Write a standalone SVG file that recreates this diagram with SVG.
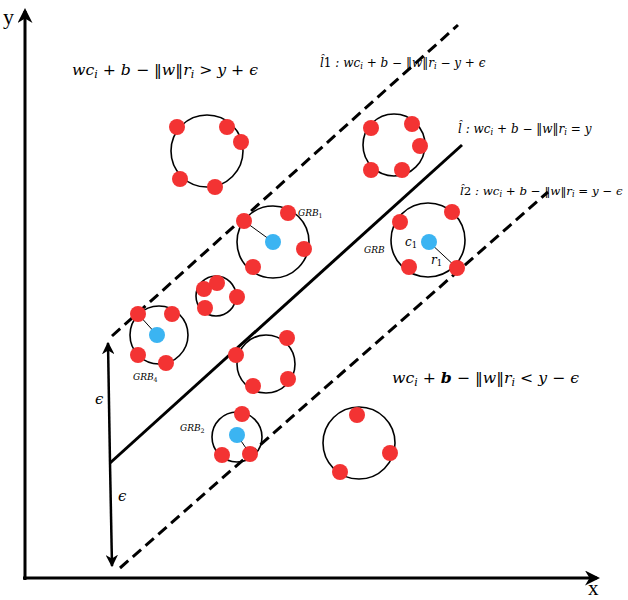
<svg xmlns="http://www.w3.org/2000/svg" width="628" height="600" viewBox="0 0 628 600">
<style>
.c{fill:none;stroke:#000;stroke-width:1.6}
.r{fill:#f33333}
.b{fill:#3bb4f2}
.m{font-family:"DejaVu Serif","Liberation Serif",serif;font-style:italic;fill:#000}
.n{font-family:"Liberation Serif","DejaVu Serif",serif;fill:#000}
.s{font-size:70%}
.ax{stroke:#000;stroke-width:3;fill:none}
.dash{stroke:#000;stroke-width:3;stroke-dasharray:11 6;fill:none}
.sp{stroke:#000;stroke-width:1;fill:none}
</style>
<defs>
<marker id="ah" viewBox="0 0 10 10" refX="8" refY="5" markerWidth="5" markerHeight="5" orient="auto-start-reverse" markerUnits="strokeWidth">
<path d="M0,0 L10,5 L0,10 L3,5 Z" fill="#000"/>
</marker>
<marker id="ah2" viewBox="0 0 10 10" refX="9" refY="5" markerWidth="5" markerHeight="5" orient="auto-start-reverse" markerUnits="strokeWidth">
<path d="M0,0 L10,5 L0,10 L3,5 Z" fill="#000"/>
</marker>
</defs>
<rect width="628" height="600" fill="#fff"/>
<g id="connectors">
<line class="ax" x1="25" y1="580" x2="25" y2="11" marker-end="url(#ah)"/>
<line class="ax" x1="23" y1="578" x2="597" y2="578" marker-end="url(#ah)"/>
<line x1="110" y1="463" x2="462" y2="145" stroke="#000" stroke-width="3"/>
<line class="dash" x1="112" y1="336" x2="458" y2="25"/>
<line class="dash" x1="120" y1="568" x2="548" y2="192"/>
<line stroke="#000" stroke-width="2.5" x1="110" y1="463" x2="108" y2="343" marker-end="url(#ah2)"/>
<line stroke="#000" stroke-width="2.5" x1="110" y1="463" x2="112" y2="566" marker-end="url(#ah2)"/>
</g>
<g id="axis-labels">
<text class="n" x="3" y="24" font-size="22">y</text>
<text class="n" x="588" y="595" font-size="21">x</text>
<text class="m" x="95" y="404" font-size="15" font-style="normal">ϵ</text>
<text class="m" x="118" y="501" font-size="15" font-style="normal">ϵ</text>
</g>
<g id="region-labels">
<text class="m" x="72" y="75" font-size="15.7">wc<tspan class="s" dy="3">i</tspan><tspan dy="-3"> + b − ‖w‖r</tspan><tspan class="s" dy="3">i</tspan><tspan dy="-3"> &gt; y + ϵ</tspan></text>
<text class="m" x="392" y="383" font-size="15.7">wc<tspan class="s" dy="3">i</tspan><tspan dy="-3"> + <tspan font-weight="bold">b</tspan> − ‖w‖r</tspan><tspan class="s" dy="3">i</tspan><tspan dy="-3"> &lt; y − ϵ</tspan></text>
<text class="m" x="320" y="67" font-size="12">l̂<tspan font-style="normal">1</tspan> : wc<tspan class="s" dy="2">i</tspan><tspan dy="-2"> + b − ‖w‖r</tspan><tspan class="s" dy="2">i</tspan><tspan dy="-2"> − y + ϵ</tspan></text>
<text class="m" x="458" y="133" font-size="12">l̂ : wc<tspan class="s" dy="2">i</tspan><tspan dy="-2"> + b − ‖w‖r</tspan><tspan class="s" dy="2">i</tspan><tspan dy="-2"> = y</tspan></text>
<text class="m" x="460" y="195" font-size="11.8">l̂<tspan font-style="normal">2</tspan> : wc<tspan class="s" dy="2">i</tspan><tspan dy="-2"> + b − ‖w‖r</tspan><tspan class="s" dy="2">i</tspan><tspan dy="-2"> = y − ϵ</tspan></text>
</g>
<g id="node-top-left">
<circle class="c" cx="207" cy="151" r="36"/>
<circle class="r" cx="177" cy="127" r="8"/>
<circle class="r" cx="227" cy="127" r="8"/>
<circle class="r" cx="241" cy="142" r="8"/>
<circle class="r" cx="180" cy="179" r="8"/>
<circle class="r" cx="215" cy="187" r="8"/>
</g>
<g id="node-top-right">
<circle class="c" cx="394" cy="145" r="31"/>
<circle class="r" cx="371" cy="128" r="8"/>
<circle class="r" cx="412" cy="124" r="8"/>
<circle class="r" cx="420" cy="146" r="8"/>
<circle class="r" cx="371" cy="170" r="8"/>
<circle class="r" cx="402" cy="170" r="8"/>
</g>
<g id="node-grb1">
<circle class="c" cx="273" cy="242" r="36"/>
<line class="sp" x1="244" y1="221" x2="273" y2="242"/>
<circle class="r" cx="244" cy="221" r="8"/>
<circle class="r" cx="288" cy="213" r="8"/>
<circle class="r" cx="304" cy="249" r="8"/>
<circle class="r" cx="253" cy="267" r="8"/>
<circle class="b" cx="273" cy="242" r="8"/>
<text class="m" x="298" y="216" font-size="9">GRB<tspan class="s" dy="2" font-style="normal">1</tspan></text>
</g>
<g id="node-grb">
<circle class="c" cx="428" cy="240" r="37"/>
<line class="sp" x1="429" y1="242" x2="457" y2="268"/>
<circle class="r" cx="400" cy="222" r="8"/>
<circle class="r" cx="452" cy="212" r="8"/>
<circle class="r" cx="409" cy="267" r="8"/>
<circle class="r" cx="457" cy="268" r="8"/>
<circle class="b" cx="429" cy="242" r="8"/>
<text class="m" x="405" y="246" font-size="12">c<tspan class="s" dy="2" font-style="normal">1</tspan></text>
<text class="m" x="431" y="264" font-size="12">r<tspan class="s" dy="2" font-style="normal">1</tspan></text>
<text class="m" x="364" y="253" font-size="9">GRB</text>
</g>
<g id="node-small">
<circle class="c" cx="216" cy="296" r="20"/>
<circle class="r" cx="204" cy="289" r="8"/>
<circle class="r" cx="217" cy="283" r="8"/>
<circle class="r" cx="237" cy="297" r="8"/>
<circle class="r" cx="205" cy="308" r="8"/>
</g>
<g id="node-grb4">
<circle class="c" cx="159" cy="335" r="29"/>
<line class="sp" x1="138" y1="314" x2="157" y2="335"/>
<circle class="r" cx="138" cy="314" r="8"/>
<circle class="r" cx="172" cy="314" r="8"/>
<circle class="r" cx="138" cy="355" r="8"/>
<circle class="r" cx="166" cy="363" r="8"/>
<circle class="b" cx="157" cy="335" r="8"/>
<text class="m" x="133" y="380" font-size="9">GRB<tspan class="s" dy="2" font-style="normal">4</tspan></text>
</g>
<g id="node-middle">
<circle class="c" cx="266" cy="364" r="29"/>
<circle class="r" cx="236" cy="355" r="8"/>
<circle class="r" cx="287" cy="338" r="8"/>
<circle class="r" cx="288" cy="379" r="8"/>
<circle class="r" cx="253" cy="386" r="8"/>
</g>
<g id="node-grb2">
<circle class="c" cx="237" cy="437" r="25"/>
<line class="sp" x1="237" y1="435" x2="250" y2="454"/>
<circle class="r" cx="242" cy="414" r="8"/>
<circle class="r" cx="222" cy="455" r="8"/>
<circle class="r" cx="250" cy="454" r="8"/>
<circle class="b" cx="237" cy="435" r="8"/>
<text class="m" x="180" y="431" font-size="9">GRB<tspan class="s" dy="2" font-style="normal">2</tspan></text>
</g>
<g id="node-bottom-right">
<circle class="c" cx="359" cy="443" r="36"/>
<circle class="r" cx="357" cy="415" r="8"/>
<circle class="r" cx="390" cy="453" r="8"/>
<circle class="r" cx="340" cy="472" r="8"/>
</g>
</svg>
